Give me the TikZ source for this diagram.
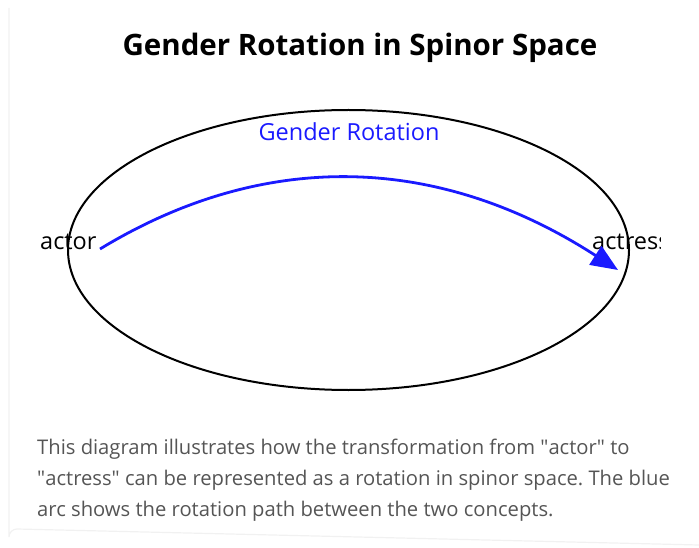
\documentclass[tikz,border=0pt]{standalone}
\usepackage{fontspec}
\setmainfont{Open Sans}
\usepackage{tikz}
\usetikzlibrary{arrows.meta}
\definecolor{rotBlue}{HTML}{1A1AFF}
\definecolor{noteGray}{HTML}{555555}
\definecolor{panelEdge}{HTML}{F1F1F1}
\frenchspacing

\begin{document}
\begin{tikzpicture}[x=1pt, y=-1pt,
    word/.style={font=\fontsize{23.5}{27}\selectfont, inner sep=0pt},
    noteline/.style={anchor=base west, inner sep=0pt, text=noteGray,
        font=\fontsize{20.2}{24}\selectfont}]
    \useasboundingbox (0,0) rectangle (699,548);

    % faint panel edge
    \draw[panelEdge, line width=1.2pt] (9,8) -- (9,537) arc[start angle=180, end angle=270, radius=8] -- (699,545);

    \node[font=\fontsize{29.5}{34}\selectfont\bfseries] (title) at (360,48) {Gender Rotation in Spinor Space};

    % spinor space
    \draw[line width=2pt] (348.5,250) ellipse[x radius=280.5, y radius=140];
    \node[word, text=rotBlue] (rotlabel) at (349,132) {Gender Rotation};

    \node[word, anchor=west] (actor) at (40,242) {actor};
    \begin{scope}
        \clip (560,220) rectangle (660,270);
        \node[word, anchor=west] (actress) at (592,242) {actress};
    \end{scope}

    \coordinate (arcstart) at (100,249);
    \coordinate (arcend) at (618,270);
    \draw[rotBlue, line width=2.8pt, -{Triangle[length=27pt, width=22pt]}]
        (arcstart) .. controls (266,148) and (440,155) .. (arcend);

    \node[noteline] (note1) at (37,454) {This diagram illustrates how the transformation from \textquotedbl actor\textquotedbl{} to};
    \node[noteline] (note2) at (37,485) {\textquotedbl actress\textquotedbl{} can be represented as a rotation in spinor space. The blue};
    \node[noteline] (note3) at (37,516) {arc shows the rotation path between the two concepts.};
\end{tikzpicture}
\end{document}
